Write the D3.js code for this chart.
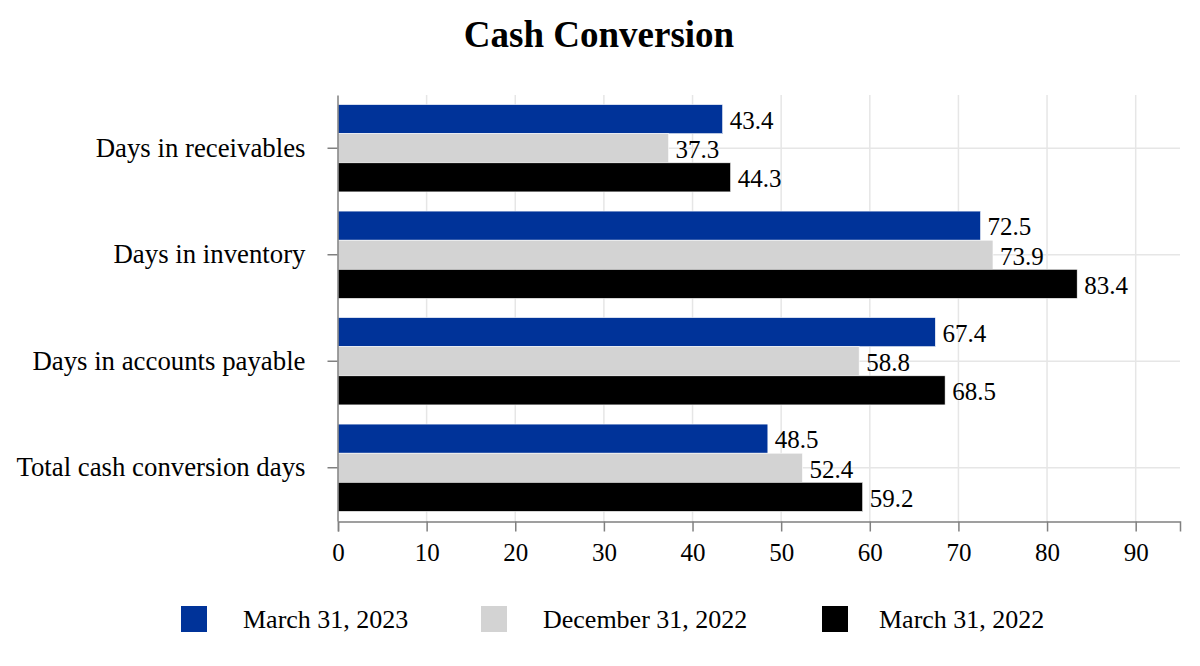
<!DOCTYPE html>
<html>
<head>
<meta charset="utf-8">
<script src="https://d3js.org/d3.v7.min.js"></script>
<style>
  body { margin: 0; background: #fff; }
  text { font-family: "Liberation Serif", "Times New Roman", serif; }
</style>
</head>
<body>
<div id="chart"></div>
<script>
var categories = ["Days in receivables", "Days in inventory", "Days in accounts payable", "Total cash conversion days"];
var seriesNames = ["March 31, 2023", "December 31, 2022", "March 31, 2022"];
var mar2023 = [43.4, 72.5, 67.4, 48.5];
var dec2022 = [37.3, 73.9, 58.8, 52.4];
var mar2022 = [44.3, 83.4, 68.5, 59.2];
var xTicks = [0, 10, 20, 30, 40, 50, 60, 70, 80, 90];
var colors = ["#003399", "#d3d3d3", "#000000"];

var series = [mar2023, dec2022, mar2022];
var width = 1200, height = 666;
var margin = {left: 338, right: 20, top: 95, bottom: 145};

var svg = d3.select("#chart").append("svg")
    .attr("width", width).attr("height", height);

var x = d3.scaleLinear().domain([0, 95]).range([margin.left, width - margin.right]);
var y = d3.scaleBand().domain(categories).range([margin.top, height - margin.bottom]).paddingInner(0.18).paddingOuter(0.09);
var ySub = d3.scaleBand().domain(d3.range(series.length)).range([0, y.bandwidth()]);

// grid
svg.append("g").selectAll("line").data(xTicks.slice(1)).enter().append("line")
    .attr("x1", function(d) { return x(d); }).attr("x2", function(d) { return x(d); })
    .attr("y1", margin.top).attr("y2", height - margin.bottom)
    .attr("stroke", "#e6e6e6").attr("stroke-width", 1.5);
svg.append("g").selectAll("line").data(categories).enter().append("line")
    .attr("x1", margin.left).attr("x2", width - margin.right)
    .attr("y1", function(d) { return y(d) + y.bandwidth() / 2; })
    .attr("y2", function(d) { return y(d) + y.bandwidth() / 2; })
    .attr("stroke", "#e6e6e6").attr("stroke-width", 1.5);

// bars
series.forEach(function(vals, i) {
    svg.append("g").selectAll("rect").data(vals).enter().append("rect")
        .attr("x", x(0))
        .attr("y", function(d, j) { return y(categories[j]) + ySub(i); })
        .attr("width", function(d) { return x(d) - x(0); })
        .attr("height", ySub.bandwidth())
        .attr("fill", colors[i])
        .attr("stroke", "#ffffff").attr("stroke-width", 0.6);
    svg.append("g").selectAll("text").data(vals).enter().append("text")
        .attr("x", function(d) { return x(d) + 7; })
        .attr("y", function(d, j) { return y(categories[j]) + ySub(i) + ySub.bandwidth() / 2 + 1; })
        .attr("dy", "0.35em")
        .attr("font-size", "25px")
        .attr("fill", "#000")
        .text(function(d) { return d.toFixed(1); });
});

// axes
var xAxis = svg.append("g")
    .attr("transform", "translate(0," + (height - margin.bottom + 0.5) + ")")
    .call(d3.axisBottom(x).tickValues(xTicks).tickSize(10).tickPadding(12));
xAxis.select(".domain").attr("stroke", "#808080").attr("stroke-width", 1.5);
xAxis.selectAll(".tick line").attr("stroke", "#808080").attr("stroke-width", 1.5);
xAxis.selectAll("text").attr("font-size", "25px").attr("fill", "#000")
    .attr("font-family", "Liberation Serif, Times New Roman, serif");

var yAxis = svg.append("g")
    .attr("transform", "translate(" + (margin.left - 0.5) + ",0)")
    .call(d3.axisLeft(y).tickSize(10).tickPadding(22).tickSizeOuter(0));
yAxis.select(".domain").attr("stroke", "#808080").attr("stroke-width", 1.5);
yAxis.selectAll(".tick line").attr("stroke", "#808080").attr("stroke-width", 1.5);
yAxis.selectAll("text").attr("font-size", "26.8px").attr("fill", "#000")
    .attr("font-family", "Liberation Serif, Times New Roman, serif");

// title
svg.append("text")
    .attr("x", width / 2 - 1).attr("y", 47)
    .attr("text-anchor", "middle")
    .attr("font-size", "37px").attr("font-weight", "bold")
    .text("Cash Conversion");

// legend
var legendX = [181, 481, 822];
var legendTextX = [62, 62, 57];
var legend = svg.append("g").selectAll("g").data(seriesNames).enter().append("g")
    .attr("transform", function(d, i) { return "translate(" + legendX[i] + ",606)"; });
legend.append("rect").attr("width", 26).attr("height", 26)
    .attr("fill", function(d, i) { return colors[i]; });
legend.append("text").attr("x", function(d, i) { return legendTextX[i]; }).attr("y", 13).attr("dy", "0.35em")
    .attr("font-size", "26px")
    .text(function(d) { return d; });
</script>
</body>
</html>
